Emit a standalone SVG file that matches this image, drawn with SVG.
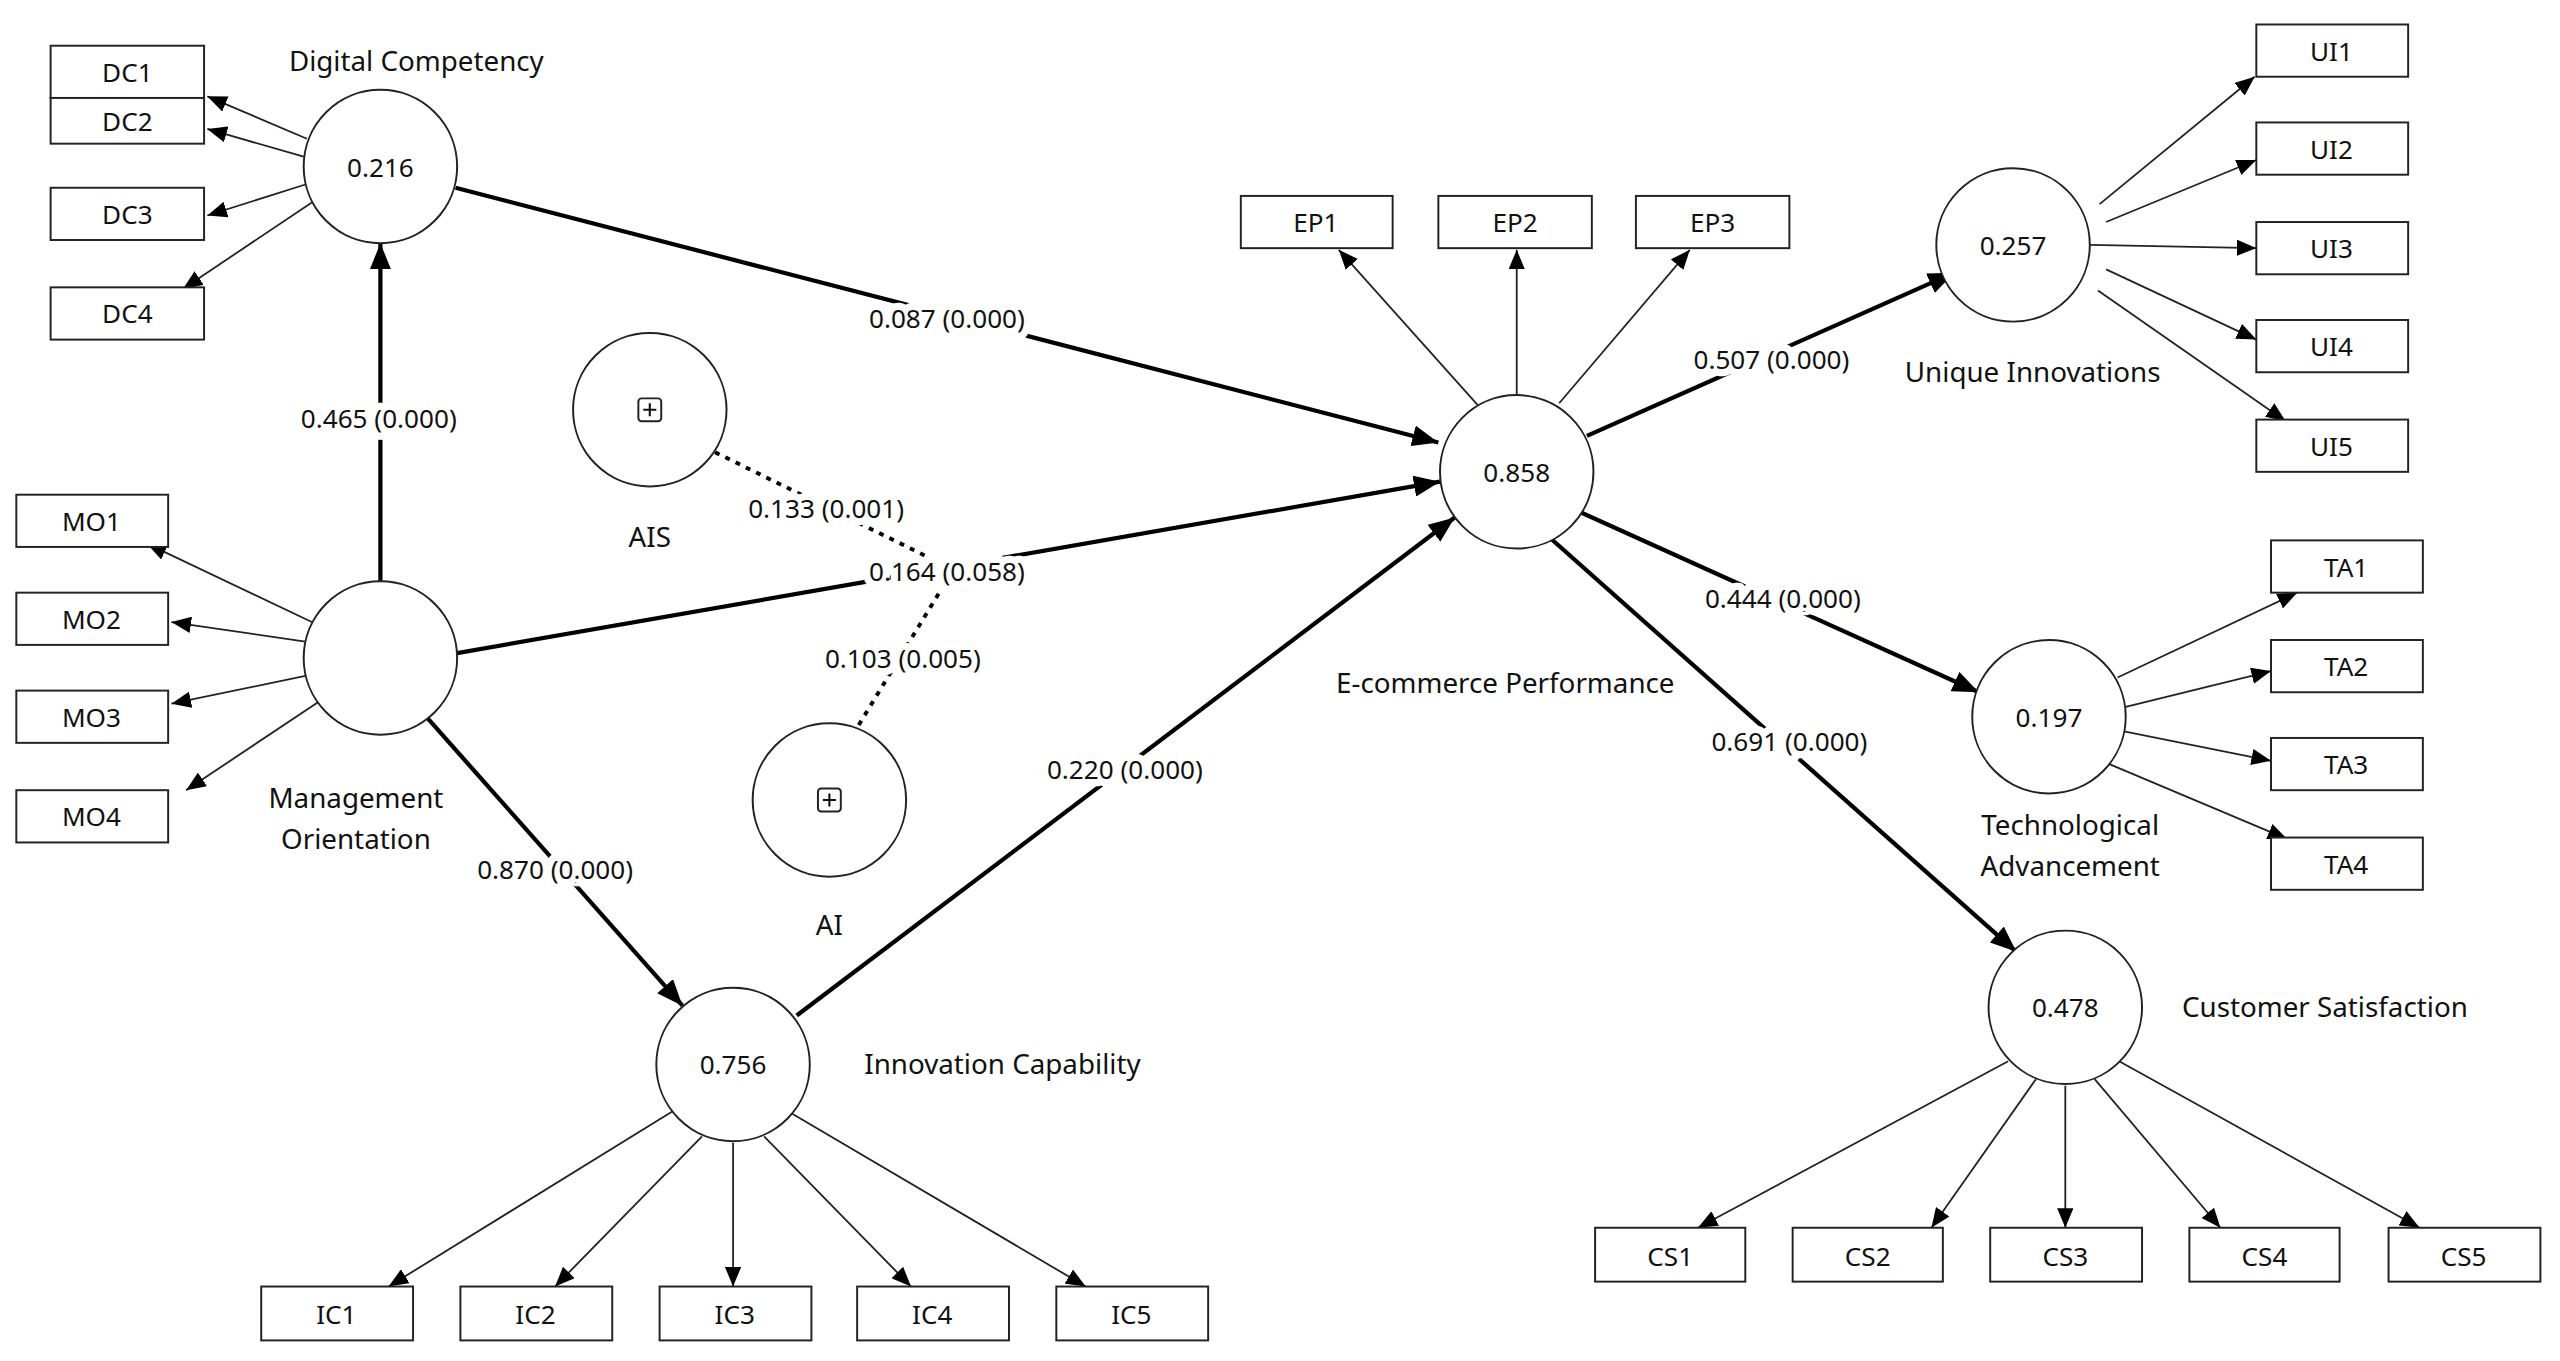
<svg xmlns="http://www.w3.org/2000/svg" width="2560" height="1361" viewBox="0 0 2560 1361">
<defs>
<marker id="a" markerUnits="userSpaceOnUse" markerWidth="12" markerHeight="10" refX="12" refY="5" orient="auto"><path d="M0,0L12,5L0,10z" fill="#000"/></marker>
<marker id="b" markerUnits="userSpaceOnUse" markerWidth="16" markerHeight="13" refX="16" refY="6.5" orient="auto"><path d="M0,0L16,6.5L0,13z" fill="#000"/></marker>
</defs>
<style>
text{font-family:"Noto Sans","Open Sans",sans-serif;fill:#111;text-anchor:middle;dominant-baseline:central}
.n{font-size:16px}.l{font-size:17px}
.pl{font-size:16px;stroke:#fff;stroke-width:9px;paint-order:stroke;stroke-linejoin:round}
circle{fill:#fff;stroke:#222;stroke-width:1.2}
rect{fill:#fff;stroke:#222;stroke-width:1.2}
.t{stroke:#222;stroke-width:1.1;fill:none;marker-end:url(#a)}
.k{stroke:#000;stroke-width:2.6;fill:none;marker-end:url(#b)}
.d{stroke:#000;stroke-width:2.4;fill:none;stroke-dasharray:3 4}
</style>
<rect x="0" y="0" width="2560" height="1361" style="fill:#fff;stroke:none"/>
<g transform="scale(1.63265)">
<g id="connectors">
<line class="t" x1="188" y1="85" x2="127" y2="59"/>
<line class="t" x1="186" y1="96" x2="127" y2="79"/>
<line class="t" x1="187" y1="113" x2="127" y2="132"/>
<line class="t" x1="191" y1="124" x2="112" y2="177"/>
<line class="t" x1="191" y1="381" x2="90" y2="333"/>
<line class="t" x1="187" y1="393" x2="105" y2="381"/>
<line class="t" x1="187" y1="414" x2="105" y2="431"/>
<line class="t" x1="195" y1="430" x2="114" y2="484"/>
<line class="t" x1="905" y1="248" x2="820" y2="153"/>
<line class="t" x1="929" y1="242" x2="929" y2="153"/>
<line class="t" x1="955" y1="247" x2="1035" y2="153"/>
<line class="t" x1="1286" y1="125" x2="1381" y2="47"/>
<line class="t" x1="1290" y1="136" x2="1382" y2="98"/>
<line class="t" x1="1280" y1="150" x2="1382" y2="152"/>
<line class="t" x1="1290" y1="165" x2="1382" y2="208"/>
<line class="t" x1="1285" y1="178" x2="1400" y2="258"/>
<line class="t" x1="1297" y1="415" x2="1407" y2="363"/>
<line class="t" x1="1302" y1="433" x2="1391" y2="411"/>
<line class="t" x1="1301" y1="448" x2="1391" y2="466"/>
<line class="t" x1="1292" y1="468" x2="1401" y2="514"/>
<line class="t" x1="1230" y1="650" x2="1040" y2="752"/>
<line class="t" x1="1247" y1="661" x2="1183" y2="752"/>
<line class="t" x1="1265" y1="665" x2="1265" y2="752"/>
<line class="t" x1="1283" y1="661" x2="1360" y2="752"/>
<line class="t" x1="1298" y1="650" x2="1482" y2="752"/>
<line class="t" x1="413" y1="680" x2="238" y2="788"/>
<line class="t" x1="430" y1="696" x2="340" y2="788"/>
<line class="t" x1="449" y1="700" x2="449" y2="788"/>
<line class="t" x1="468" y1="696" x2="558" y2="788"/>
<line class="t" x1="485" y1="682" x2="665" y2="788"/>
<line class="k" x1="279" y1="115" x2="881" y2="271"/>
<line class="k" x1="233" y1="356" x2="233" y2="149"/>
<line class="k" x1="280" y1="400" x2="882" y2="295"/>
<line class="k" x1="262" y1="440" x2="418" y2="616"/>
<line class="k" x1="488" y1="622" x2="891" y2="317"/>
<line class="k" x1="972" y1="267" x2="1197" y2="167"/>
<line class="k" x1="962" y1="311" x2="1212" y2="424"/>
<line class="k" x1="950" y1="330" x2="1235" y2="583"/>
<line class="d" x1="438" y1="277" x2="570" y2="342"/>
<line class="d" x1="526" y1="444" x2="582" y2="352"/>
<text class="pl" x="232" y="256">0.465 (0.000)</text>
<text class="pl" x="580" y="195">0.087 (0.000)</text>
<text class="pl" x="506" y="311">0.133 (0.001)</text>
<text class="pl" x="580" y="350">0.164 (0.058)</text>
<text class="pl" x="553" y="403">0.103 (0.005)</text>
<text class="pl" x="689" y="471">0.220 (0.000)</text>
<text class="pl" x="340" y="532">0.870 (0.000)</text>
<text class="pl" x="1085" y="220">0.507 (0.000)</text>
<text class="pl" x="1092" y="366">0.444 (0.000)</text>
<text class="pl" x="1096" y="454">0.691 (0.000)</text>
</g>
<g id="DC"><circle cx="233" cy="102" r="47"/><text class="n" x="233" y="102">0.216</text><text class="l" x="255" y="37">Digital Competency</text></g>
<g id="DC1"><rect x="31" y="28" width="94" height="32"/><text class="n" x="78" y="44">DC1</text></g>
<g id="DC2"><rect x="31" y="60" width="94" height="28"/><text class="n" x="78" y="74">DC2</text></g>
<g id="DC3"><rect x="31" y="115" width="94" height="32"/><text class="n" x="78" y="131">DC3</text></g>
<g id="DC4"><rect x="31" y="176" width="94" height="32"/><text class="n" x="78" y="192">DC4</text></g>
<g id="MO"><circle cx="233" cy="403" r="47"/><text class="l" x="218" y="488">Management</text><text class="l" x="218" y="513">Orientation</text></g>
<g id="MO1"><rect x="10" y="303" width="93" height="32"/><text class="n" x="56" y="319">MO1</text></g>
<g id="MO2"><rect x="10" y="363" width="93" height="32"/><text class="n" x="56" y="379">MO2</text></g>
<g id="MO3"><rect x="10" y="423" width="93" height="32"/><text class="n" x="56" y="439">MO3</text></g>
<g id="MO4"><rect x="10" y="484" width="93" height="32"/><text class="n" x="56" y="500">MO4</text></g>
<g id="AIS"><circle cx="398" cy="251" r="47"/><rect x="391" y="244" width="14" height="14" rx="2"/><path d="M398,247v8M394,251h8" stroke="#111" stroke-width="1.3"/><text class="l" x="398" y="328">AIS</text></g>
<g id="AI"><circle cx="508" cy="490" r="47"/><rect x="501" y="483" width="14" height="14" rx="2"/><path d="M508,486v8M504,490h8" stroke="#111" stroke-width="1.3"/><text class="l" x="508" y="566">AI</text></g>
<g id="EP"><circle cx="929" cy="289" r="47"/><text class="n" x="929" y="289">0.858</text><text class="l" x="922" y="418">E-commerce Performance</text></g>
<g id="EP1"><rect x="760" y="120" width="93" height="32"/><text class="n" x="806" y="136">EP1</text></g>
<g id="EP2"><rect x="881" y="120" width="94" height="32"/><text class="n" x="928" y="136">EP2</text></g>
<g id="EP3"><rect x="1002" y="120" width="94" height="32"/><text class="n" x="1049" y="136">EP3</text></g>
<g id="UI"><circle cx="1233" cy="150" r="47"/><text class="n" x="1233" y="150">0.257</text><text class="l" x="1245" y="227">Unique Innovations</text></g>
<g id="UI1"><rect x="1382" y="15" width="93" height="32"/><text class="n" x="1428" y="31">UI1</text></g>
<g id="UI2"><rect x="1382" y="75" width="93" height="32"/><text class="n" x="1428" y="91">UI2</text></g>
<g id="UI3"><rect x="1382" y="136" width="93" height="32"/><text class="n" x="1428" y="152">UI3</text></g>
<g id="UI4"><rect x="1382" y="196" width="93" height="32"/><text class="n" x="1428" y="212">UI4</text></g>
<g id="UI5"><rect x="1382" y="257" width="93" height="32"/><text class="n" x="1428" y="273">UI5</text></g>
<g id="TA"><circle cx="1255" cy="439" r="47"/><text class="n" x="1255" y="439">0.197</text><text class="l" x="1268" y="505">Technological</text><text class="l" x="1268" y="530">Advancement</text></g>
<g id="TA1"><rect x="1391" y="331" width="93" height="32"/><text class="n" x="1437" y="347">TA1</text></g>
<g id="TA2"><rect x="1391" y="392" width="93" height="32"/><text class="n" x="1437" y="408">TA2</text></g>
<g id="TA3"><rect x="1391" y="452" width="93" height="32"/><text class="n" x="1437" y="468">TA3</text></g>
<g id="TA4"><rect x="1391" y="513" width="93" height="32"/><text class="n" x="1437" y="529">TA4</text></g>
<g id="CS"><circle cx="1265" cy="617" r="47"/><text class="n" x="1265" y="617">0.478</text><text class="l" x="1424" y="616">Customer Satisfaction</text></g>
<g id="CS1"><rect x="977" y="752" width="92" height="33"/><text class="n" x="1023" y="769">CS1</text></g>
<g id="CS2"><rect x="1098" y="752" width="92" height="33"/><text class="n" x="1144" y="769">CS2</text></g>
<g id="CS3"><rect x="1219" y="752" width="93" height="33"/><text class="n" x="1265" y="769">CS3</text></g>
<g id="CS4"><rect x="1341" y="752" width="92" height="33"/><text class="n" x="1387" y="769">CS4</text></g>
<g id="CS5"><rect x="1463" y="752" width="93" height="33"/><text class="n" x="1509" y="769">CS5</text></g>
<g id="IC"><circle cx="449" cy="652" r="47"/><text class="n" x="449" y="652">0.756</text><text class="l" x="614" y="651">Innovation Capability</text></g>
<g id="IC1"><rect x="160" y="788" width="93" height="33"/><text class="n" x="206" y="805">IC1</text></g>
<g id="IC2"><rect x="282" y="788" width="93" height="33"/><text class="n" x="328" y="805">IC2</text></g>
<g id="IC3"><rect x="404" y="788" width="93" height="33"/><text class="n" x="450" y="805">IC3</text></g>
<g id="IC4"><rect x="525" y="788" width="93" height="33"/><text class="n" x="571" y="805">IC4</text></g>
<g id="IC5"><rect x="647" y="788" width="93" height="33"/><text class="n" x="693" y="805">IC5</text></g>
</g>
</svg>
